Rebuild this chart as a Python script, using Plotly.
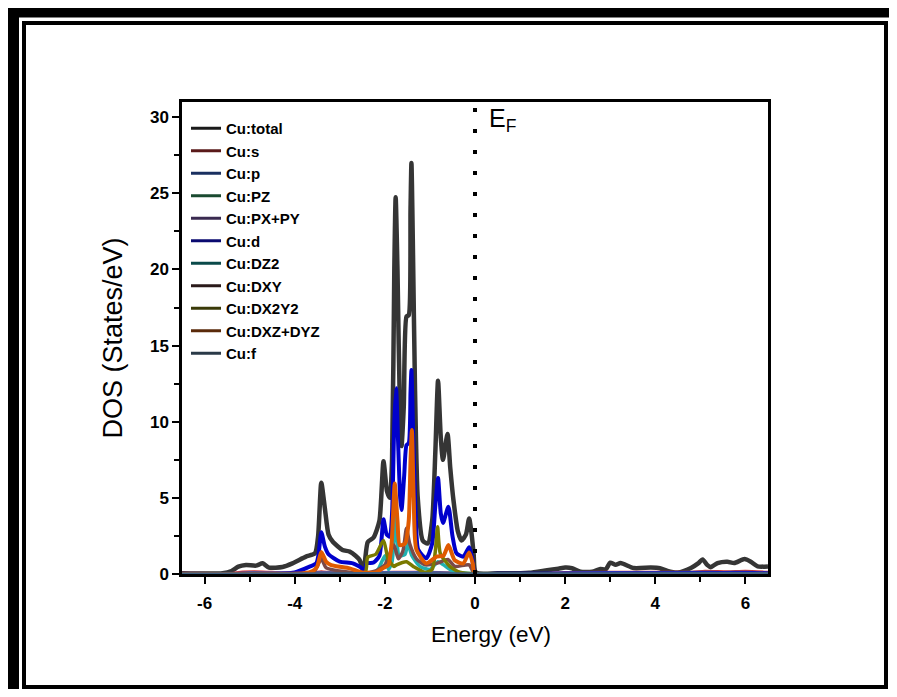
import plotly.graph_objects as go

# ---------------- data ----------------
total_E = [-6.5, -5.6, -5.4, -5.25, -5.08, -4.86, -4.71, -4.57, -4.27, -4.05, -3.75, -3.55, -3.48, -3.41, -3.33, -3.25,
           -3.15, -2.94, -2.78, -2.65, -2.56, -2.47, -2.38, -2.25, -2.12, -2.03, -1.95, -1.89, -1.84, -1.79, -1.76,
           -1.72, -1.66, -1.63, -1.58, -1.52, -1.47, -1.43, -1.41, -1.38, -1.33, -1.27, -1.16, -1.05, -0.95, -0.88,
           -0.82, -0.76, -0.71, -0.61, -0.55, -0.48, -0.38, -0.30, -0.20, -0.13, -0.07, -0.03, 0.02, 0.5, 1.2, 1.6,
           1.85, 2.0, 2.15, 2.34, 2.6, 2.78, 2.9, 3.0, 3.12, 3.23, 3.52, 3.9, 4.1, 4.27, 4.5, 4.79, 4.95, 5.05, 5.15,
           5.23, 5.38, 5.6, 5.75, 5.98, 6.12, 6.27, 6.5]
total_D = [0.05, 0.05, 0.2, 0.48, 0.59, 0.55, 0.70, 0.42, 0.46, 0.70, 1.14, 1.36, 2.5, 6.0, 4.3, 2.6,
           2.1, 1.58, 1.47, 1.2, 0.92, 0.3, 2.1, 2.4, 3.5, 7.4, 5.4, 5.0, 7.5, 20.0, 24.75,
           20.0, 10.0, 8.4, 11.0, 16.9, 17.0, 24.0, 27.0, 22.0, 12.0, 5.0, 2.2, 2.0, 3.5, 8.0,
           12.7, 9.0, 7.5, 9.2, 7.0, 4.9, 2.8, 2.2, 2.6, 3.65, 2.5, 1.3, 0.1, 0.05, 0.08, 0.25,
           0.35, 0.42, 0.38, 0.15, 0.15, 0.33, 0.3, 0.74, 0.6, 0.72, 0.39, 0.42, 0.38, 0.2, 0.1, 0.4, 0.7, 0.96, 0.6,
           0.45, 0.72, 0.81, 0.72, 0.98, 0.8, 0.5, 0.5]

s_E = [-6.5, -5.4, -5.2, -4.9, -4.6, -4.3, -3.6, -3.41, -3.2, -2.4, -1.8, -1.4, -0.8, 0.0, 1.5, 2.0, 3.0, 4.0, 4.8, 5.1, 5.6, 6.0, 6.5]
s_D = [0.02, 0.02, 0.12, 0.15, 0.12, 0.08, 0.08, 0.15, 0.08, 0.08, 0.12, 0.12, 0.1, 0.02, 0.03, 0.1, 0.12, 0.12, 0.12, 0.18, 0.15, 0.18, 0.12]

p_E = [-6.5, -5.4, -5.0, -4.5, -3.5, -2.4, -1.5, -0.8, 0.0, 1.5, 2.0, 3.0, 4.0, 5.0, 5.5, 6.0, 6.5]
p_D = [0.02, 0.02, 0.08, 0.06, 0.08, 0.08, 0.1, 0.08, 0.02, 0.03, 0.06, 0.1, 0.08, 0.12, 0.1, 0.12, 0.1]

pz_E = [-6.5, -5.0, -3.5, -1.5, 0.0, 2.0, 3.0, 5.0, 6.5]
pz_D = [0.01, 0.03, 0.03, 0.04, 0.01, 0.02, 0.04, 0.05, 0.04]

pxpy_E = [-6.5, -5.0, -3.5, -1.5, 0.0, 2.0, 3.0, 5.0, 6.5]
pxpy_D = [0.01, 0.05, 0.05, 0.06, 0.01, 0.04, 0.06, 0.07, 0.06]

d_E = [-6.5, -4.3, -4.0, -3.67, -3.52, -3.47, -3.41, -3.33, -3.25, -3.0, -2.71, -2.52, -2.46, -2.40, -2.25, -2.12,
       -2.03, -1.96, -1.89, -1.84, -1.79, -1.75, -1.71, -1.66, -1.63, -1.57, -1.52, -1.47, -1.43, -1.41, -1.37,
       -1.31, -1.26, -1.08, -0.95, -0.88, -0.82, -0.76, -0.71, -0.59, -0.50, -0.41, -0.26, -0.13, -0.06, 0.0, 0.5, 6.5]
d_D = [0.02, 0.02, 0.1, 0.48, 0.7, 1.3, 2.75, 1.8, 1.3, 0.81, 0.70, 0.40, 0.05, 0.7, 0.75, 1.2,
       3.6, 2.6, 2.45, 4.0, 10.0, 12.2, 9.0, 5.0, 4.2, 6.5, 8.47, 8.6, 12.0, 13.4, 9.0,
       3.5, 1.6, 1.03, 2.0, 4.5, 6.3, 4.0, 3.35, 4.42, 2.5, 1.36, 1.14, 1.75, 1.0, 0.05, 0.02, 0.05]

dz2_E = [-6.5, -2.3, -2.15, -2.0, -1.92, -1.84, -1.76, -1.68, -1.55, -1.49, -1.40, -1.22, -1.0, -0.82, -0.7, -0.5, 0.0, 6.5]
dz2_D = [0.0, 0.05, 0.3, 1.2, 0.3, 0.8, 3.8, 1.2, 1.3, 2.0, 1.2, 0.5, 0.3, 0.8, 0.6, 0.2, 0.01, 0.0]

dxy_E = [-6.5, -3.6, -3.41, -3.3, -2.5, -2.2, -2.0, -1.8, -1.7, -1.6, -1.52, -1.45, -1.3, -1.1, -0.85, -0.6, -0.45, -0.13, 0.0, 6.5]
dxy_D = [0.0, 0.05, 1.0, 0.4, 0.05, 0.2, 0.6, 1.9, 1.0, 1.5, 3.0, 2.0, 1.0, 0.6, 0.7, 0.95, 0.5, 0.6, 0.01, 0.0]

dx2y2_E = [-6.5, -2.45, -2.38, -2.2, -2.03, -1.93, -1.8, -1.74, -1.52, -1.37, -1.1, -0.95, -0.88, -0.83, -0.77, -0.56, -0.33, 0.0, 6.5]
dx2y2_D = [0.0, 0.02, 1.1, 1.3, 2.2, 1.03, 0.5, 0.6, 0.8, 0.5, 0.1, 0.3, 1.5, 3.1, 1.36, 0.5, 0.1, 0.01, 0.0]

dxzdyz_E = [-6.5, -3.8, -3.6, -3.5, -3.41, -3.3, -3.19, -2.78, -2.5, -2.2, -2.03, -1.92, -1.85, -1.78, -1.72, -1.67,
            -1.55, -1.47, -1.43, -1.40, -1.36, -1.30, -1.08, -0.85, -0.7, -0.59, -0.45, -0.26, -0.13, -0.05, 0.0, 6.5]
dxzdyz_D = [0.01, 0.05, 0.2, 0.5, 1.45, 0.8, 0.59, 0.37, 0.1, 0.1, 0.4, 0.6, 2.0, 5.95, 3.5, 1.9,
            2.0, 3.5, 7.5, 9.45, 5.0, 1.6, 0.7, 1.14, 1.2, 1.9, 0.9, 0.7, 1.42, 0.7, 0.05, 0.02]

f_E = [-6.5, -3.5, -1.5, 0.0, 3.0, 6.5]
f_D = [0.01, 0.02, 0.03, 0.01, 0.02, 0.03]

names = ["Cu:total", "Cu:s", "Cu:p", "Cu:PZ", "Cu:PX+PY", "Cu:d", "Cu:DZ2", "Cu:DXY", "Cu:DX2Y2", "Cu:DXZ+DYZ", "Cu:f"]
series_E = [total_E, s_E, p_E, pz_E, pxpy_E, d_E, dz2_E, dxy_E, dx2y2_E, dxzdyz_E, f_E]
series_D = [total_D, s_D, p_D, pz_D, pxpy_D, d_D, dz2_D, dxy_D, dx2y2_D, dxzdyz_D, f_D]

x_tick_vals = [-6, -4, -2, 0, 2, 4, 6]
x_tick_text = ["-6", "-4", "-2", "0", "2", "4", "6"]

# ---------------- styles ----------------
line_colors = ["#353535", "#d03030", "#3060b0", "#2a8050", "#7050a0", "#0000cc",
               "#20b0b0", "#7a4a4a", "#7a7a00", "#e05a00", "#406080"]
legend_colors = ["#1a1a1a", "#5a1a1a", "#1a3060", "#1a4a30", "#3a2a50", "#0a0a70",
                 "#0a4a4a", "#2a1a1a", "#3a3a08", "#5a2a0a", "#2a3a48"]
widths = [4.5, 3, 3, 3, 3, 4, 3.5, 3.5, 3.5, 4, 3]

FONT = "Liberation Sans, Arial, sans-serif"

fig = go.Figure()
for E, D, c, w in zip(series_E, series_D, line_colors, widths):
    fig.add_trace(go.Scatter(x=E, y=D, mode="lines", showlegend=False, hoverinfo="skip",
                             line=dict(color=c, width=w, shape="spline", smoothing=0.6)))
# legend entries
for n, c in zip(names, legend_colors):
    fig.add_trace(go.Scatter(x=[None], y=[None], mode="lines", name=n, line=dict(color=c, width=3)))

# ---------------- layout ----------------
OFF = 8                      # page body margin
W, H = 881, 681              # figure fits inside the 897x697 window
L, R, T, B = 182 - OFF, 768 - OFF, 102 - OFF, 574 - OFF


def px(xp):                  # page pixel -> paper x
    return (xp - OFF - L) / (R - L)


def py(yp):                  # page pixel -> paper y
    return (B - (yp - OFF)) / (B - T)


shapes = [
    # Fermi level
    dict(type="line", xref="x", yref="y", x0=0, x1=0, y0=0, y1=31,
         line=dict(color="black", width=4, dash="4px,17px")),
    # outer thick frame
    dict(type="rect", xref="paper", yref="paper", x0=px(13.5), x1=px(910), y0=py(12), y1=py(710),
         line=dict(color="black", width=11), layer="above"),
    # inner frame
    dict(type="rect", xref="paper", yref="paper", x0=px(24), x1=px(886), y0=py(23), y1=py(687),
         line=dict(color="black", width=4), layer="above"),
]

fig.update_layout(
    width=W, height=H,
    margin=dict(l=L, r=W - R, t=T, b=H - B),
    paper_bgcolor="white", plot_bgcolor="white",
    font=dict(family=FONT, color="black"),
    shapes=shapes,
    showlegend=True,
    legend=dict(x=px(186), y=py(112), xanchor="left", yanchor="top",
                bgcolor="rgba(0,0,0,0)", font=dict(family=FONT, size=15, weight="bold", color="black"),
                tracegroupgap=0, itemwidth=30),
    annotations=[
        dict(xref="x", yref="y", x=0.27, y=31.0, xanchor="left", yanchor="top",
             text="E<sub>F</sub>", showarrow=False, font=dict(family=FONT, size=25, color="black")),
        dict(xref="paper", yref="paper", x=px(491), y=py(634), xanchor="center", yanchor="middle",
             text="Energy (eV)", showarrow=False, font=dict(family=FONT, size=22.5, color="black")),
    ],
    xaxis=dict(range=[-6.5, 6.5], tickmode="array", tickvals=x_tick_vals, ticktext=x_tick_text,
               ticks="outside", ticklen=7, tickwidth=2, tickcolor="black", ticklabelstandoff=5,
               minor=dict(tick0=-5, dtick=2, ticks="outside", ticklen=5, tickwidth=2, tickcolor="black"),
               showline=True, linewidth=2.5, linecolor="black", mirror=True,
               showgrid=False, zeroline=False,
               tickfont=dict(family=FONT, size=17, weight="bold", color="black")),
    yaxis=dict(range=[0, 31], tickmode="linear", tick0=0, dtick=5,
               ticks="outside", ticklen=7, tickwidth=2, tickcolor="black",
               minor=dict(dtick=2.5, ticks="outside", ticklen=5, tickwidth=2, tickcolor="black"),
               showline=True, linewidth=2.5, linecolor="black", mirror=True,
               showgrid=False, zeroline=False,
               tickfont=dict(family=FONT, size=17, weight="bold", color="black"),
               title=dict(text="DOS (States/eV)", font=dict(family=FONT, size=27, color="black"), standoff=20)),
)

fig.write_html("out.html")
